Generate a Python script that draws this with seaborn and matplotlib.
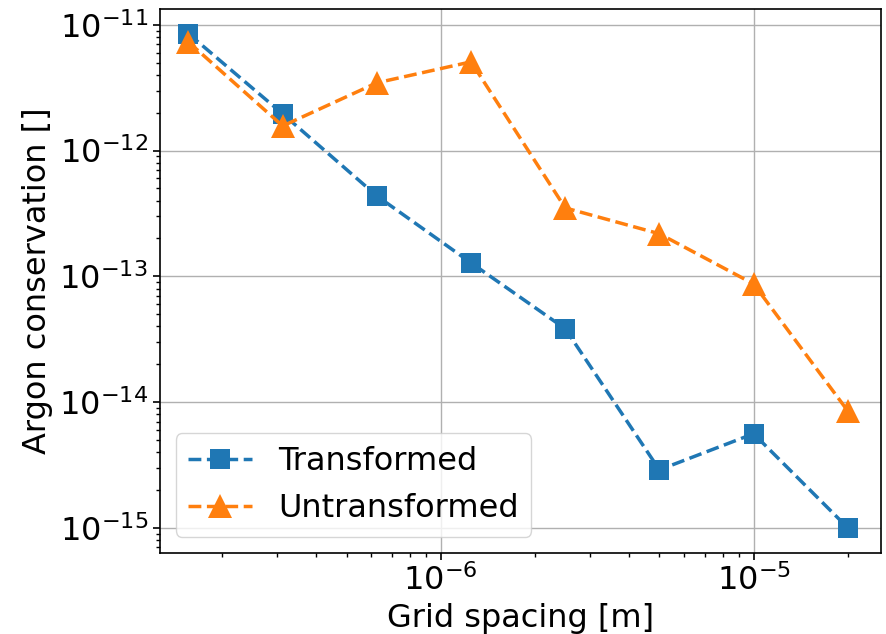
import numpy as np
import pandas as pd
import matplotlib
matplotlib.use("Agg")
import matplotlib.pyplot as plt
import seaborn as sns

grid_spacing = [1.5625e-7, 3.125e-7, 6.25e-7, 1.25e-6, 2.5e-6, 5e-6, 1e-5, 2e-5]
transformed = [8.5e-12, 1.96e-12, 4.36e-13, 1.28e-13, 3.83e-14, 2.89e-15, 5.6e-15, 1.0e-15]
untransformed = [7.3e-12, 1.57e-12, 3.46e-12, 5.08e-12, 3.5e-13, 2.18e-13, 8.7e-14, 8.5e-15]

sns.set_style("ticks")
plt.rcParams['font.family'] = ['DejaVu Sans']
for k in ["text.color", "axes.labelcolor", "xtick.color", "ytick.color", "axes.edgecolor"]:
    plt.rcParams[k] = "black"

fig, ax = plt.subplots(figsize=(8.87, 6.34), dpi=100)
fig.subplots_adjust(left=0.18, right=0.993, top=0.986, bottom=0.128)

df1 = pd.DataFrame({"x": grid_spacing, "y": transformed})
df2 = pd.DataFrame({"x": grid_spacing, "y": untransformed})
sns.lineplot(data=df1, x="x", y="y", ax=ax, color="#1f77b4", marker="s", markersize=15,
             linestyle="--", linewidth=2.5, markeredgewidth=0, label="Transformed")
sns.lineplot(data=df2, x="x", y="y", ax=ax, color="#ff7f0e", marker="^", markersize=17,
             linestyle="--", linewidth=2.5, markeredgewidth=0, label="Untransformed")

ax.set_xscale("log")
ax.set_yscale("log")
ax.grid(True, which="major", color="#b0b0b0", linewidth=1)
ax.set_xlabel("Grid spacing [m]", fontsize=23)
ax.set_ylabel("Argon conservation []", fontsize=23)
ax.tick_params(axis="both", which="major", labelsize=23, length=5, width=1.2)
ax.tick_params(axis="both", which="minor", length=3, width=1)
ax.set_xlim(1.264e-7, 2.55e-5)
ax.set_ylim(6.32e-16, 1.34e-11)
leg = ax.legend(loc="lower left", fontsize=23, frameon=True)
for sp in ax.spines.values():
    sp.set_linewidth(1.2)
fig.savefig("out.png", dpi=100)
